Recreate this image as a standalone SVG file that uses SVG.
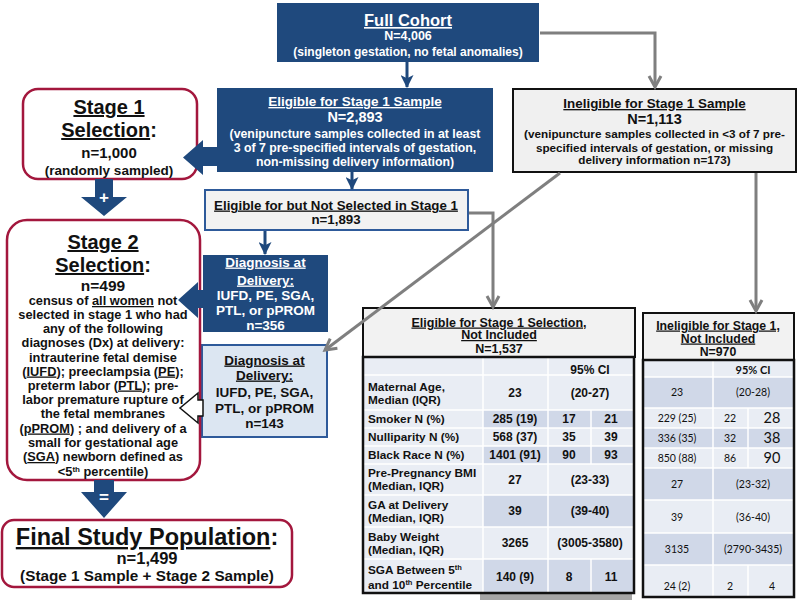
<svg xmlns="http://www.w3.org/2000/svg" width="800" height="600" viewBox="0 0 800 600">
<defs>
<style>
text{font-family:"Liberation Sans",Arial,sans-serif;font-weight:bold;text-anchor:middle;fill:#111}
.w{fill:#fff}
.u{text-decoration:underline}
.dark{fill:#1f497d}
.stage{fill:#fff;stroke:#a3173d;stroke-width:2.5}
.g{stroke:#7f7f7f;stroke-width:3;fill:none}
.b{stroke:#1f497d;stroke-width:3;fill:none}
.c1{fill:#e9edf4}
.c2{fill:#d0d8e8}
.sep{stroke:#fff;stroke-width:1.5}
.lab{text-anchor:start;font-size:11.8px}
.val{font-size:12px}
.cal{font-family:Lato,"Open Sans",sans-serif;font-weight:normal;font-size:10.5px}
.big{font-size:14.5px}
</style>
<marker id="ag" viewBox="0 0 16 16" refX="13" refY="8" markerWidth="16" markerHeight="16" markerUnits="userSpaceOnUse" orient="auto"><path d="M2,2 L13,8 L2,14" fill="none" stroke="#7f7f7f" stroke-width="3"/></marker>
<marker id="ab" viewBox="0 0 12 12" refX="11" refY="6" markerWidth="13" markerHeight="13" markerUnits="userSpaceOnUse" orient="auto"><path d="M0,0 L12,6 L0,12 L3,6z" fill="#1f497d"/></marker>
</defs>

<g id="full-cohort">
<rect class="dark" x="277" y="3" width="262" height="59"/>
<text class="w u" x="408" y="26" font-size="16.5">Full Cohort</text>
<text class="w" x="408" y="39.5" font-size="12.5">N=4,006</text>
<text class="w" x="408" y="56" font-size="12">(singleton gestation, no fetal anomalies)</text>
</g>

<g id="eligible">
<rect class="dark" x="217" y="88" width="276" height="84"/>
<text class="w u" x="355" y="106" font-size="13.5">Eligible for Stage 1 Sample</text>
<text class="w" x="355" y="121.5" font-size="14.5">N=2,893</text>
<text class="w" x="355" y="137.5" font-size="12.3">(venipuncture samples collected in at least</text>
<text class="w" x="355" y="151.5" font-size="12.3">3 of 7 pre-specified intervals of gestation,</text>
<text class="w" x="355" y="165.5" font-size="12.3">non-missing delivery information)</text>
</g>

<g id="ineligible">
<rect x="513" y="89" width="283" height="83" fill="#f0f0f0" stroke="#111" stroke-width="2"/>
<text class="u" x="654.5" y="108" font-size="13.4">Ineligible for Stage 1 Sample</text>
<text x="654.5" y="124" font-size="14.5">N=1,113</text>
<text x="654.5" y="137.5" font-size="11.7">(venipuncture samples collected in &lt;3 of 7 pre-</text>
<text x="654.5" y="151.5" font-size="11.7">specified intervals of gestation, or missing</text>
<text x="654.5" y="164" font-size="11.7">delivery information n=173)</text>
</g>

<g id="stage1">
<rect class="stage" x="23" y="89" width="174" height="90" rx="15"/>
<text class="u" x="109" y="114" font-size="20">Stage 1</text>
<text x="109" y="137" font-size="20"><tspan class="u">Selection</tspan>:</text>
<text x="109" y="157.5" font-size="15">n=1,000</text>
<text x="109" y="174.5" font-size="13.5">(randomly sampled)</text>
</g>

<g id="not-selected">
<rect x="205" y="190" width="263" height="40" fill="#f2f2f2" stroke="#2e5a9a" stroke-width="2"/>
<text class="u" x="336" y="209.5" font-size="13.3">Eligible for but Not Selected in Stage 1</text>
<text x="336" y="223.5" font-size="13.3">n=1,893</text>
</g>

<g id="diagnosis-selected">
<rect class="dark" x="203" y="255" width="125" height="77"/>
<text class="w u" x="265.5" y="266.5" font-size="13.5">Diagnosis at</text>
<text class="w u" x="265.5" y="284.5" font-size="13.5">Delivery:</text>
<text class="w" x="265.5" y="299.5" font-size="13.5">IUFD, PE, SGA,</text>
<text class="w" x="265.5" y="314.5" font-size="13.5">PTL, or pPROM</text>
<text class="w" x="265.5" y="330" font-size="13.5">n=356</text>
</g>

<g id="diagnosis-ineligible">
<rect x="202" y="345" width="125" height="92" fill="#dce6f2" stroke="#2e5a9a" stroke-width="2"/>
<text class="u" x="264.5" y="364.5" font-size="13.5">Diagnosis at</text>
<text class="u" x="264.5" y="379.5" font-size="13.5">Delivery:</text>
<text x="264.5" y="396.5" font-size="13.5">IUFD, PE, SGA,</text>
<text x="264.5" y="412.5" font-size="13.5">PTL, or pPROM</text>
<text x="264.5" y="427.5" font-size="13.5">n=143</text>
</g>

<g id="stage2">
<rect class="stage" x="7" y="220" width="193" height="260" rx="20"/>
<text class="u" x="103" y="249" font-size="20">Stage 2</text>
<text x="103" y="272" font-size="20"><tspan class="u">Selection</tspan>:</text>
<text x="103" y="290.5" font-size="15.5">n=499</text>
<g font-size="12.8">
<text x="103" y="305">census of <tspan class="u">all women</tspan> not</text>
<text x="103" y="319">selected in stage 1 who had</text>
<text x="103" y="333">any of the following</text>
<text x="103" y="347">diagnoses (Dx) at delivery:</text>
<text x="103" y="361.5">intrauterine fetal demise</text>
<text x="103" y="375.5">(<tspan class="u">IUFD</tspan>); preeclampsia (<tspan class="u">PE</tspan>);</text>
<text x="103" y="389.5">preterm labor (<tspan class="u">PTL</tspan>); pre-</text>
<text x="103" y="404">labor premature rupture of</text>
<text x="103" y="418">the fetal membranes</text>
<text x="103" y="432.5">(<tspan class="u">pPROM</tspan>) ; and delivery of a</text>
<text x="103" y="447">small for gestational age</text>
<text x="103" y="461">(<tspan class="u">SGA</tspan>) newborn defined as</text>
<text x="103" y="475.5">&lt;5<tspan font-size="8" dy="-3.5">th</tspan><tspan dy="3.5"> percentile)</tspan></text>
</g>
</g>

<g id="final">
<rect class="stage" x="2" y="520" width="290" height="67" rx="12"/>
<text x="147" y="545" font-size="23.5"><tspan class="u">Final Study Population</tspan>:</text>
<text x="147" y="563.5" font-size="16.5">n=1,499</text>
<text x="147" y="581" font-size="15.3">(Stage 1 Sample + Stage 2 Sample)</text>
</g>

<g id="table-eligible">
<rect x="480" y="593" width="152" height="7" fill="#a6a6a6"/>
<rect x="363" y="308" width="272" height="49" fill="#f2f2f2" stroke="#111" stroke-width="2"/>
<text class="u" x="499" y="326.5" font-size="12.5">Eligible for Stage 1 Selection,</text>
<text class="u" x="499" y="339" font-size="12.5">Not Included</text>
<text x="499" y="353" font-size="12.5">N=1,537</text>
<rect class="c1" x="363" y="357" width="271" height="236"/>
<rect class="c2" x="483" y="410" width="151" height="18"/>
<rect class="c2" x="483" y="446" width="151" height="18"/>
<rect class="c2" x="483" y="495" width="151" height="32"/>
<rect class="c2" x="483" y="559" width="151" height="34"/>
<g class="sep">
<line x1="363" y1="375" x2="634" y2="375"/>
<line x1="363" y1="410" x2="634" y2="410"/>
<line x1="363" y1="428" x2="634" y2="428"/>
<line x1="363" y1="446" x2="634" y2="446"/>
<line x1="363" y1="464" x2="634" y2="464"/>
<line x1="363" y1="495" x2="634" y2="495"/>
<line x1="363" y1="527" x2="634" y2="527"/>
<line x1="363" y1="559" x2="634" y2="559"/>
<line x1="483" y1="357" x2="483" y2="593"/>
<line x1="548" y1="357" x2="548" y2="593"/>
<line x1="591" y1="410" x2="591" y2="464"/>
<line x1="591" y1="559" x2="591" y2="593"/>
</g>
<rect x="363" y="357" width="271" height="236" fill="none" stroke="#111" stroke-width="2.5"/>
<text class="val" x="590" y="374">95% CI</text>
<text class="lab" x="368" y="391">Maternal Age,</text>
<text class="lab" x="368" y="404">Median (IQR)</text>
<text class="val" x="515" y="397">23</text>
<text class="val" x="590" y="397">(20-27)</text>
<text class="lab" x="368" y="423">Smoker N (%)</text>
<text class="val" x="515" y="423">285 (19)</text>
<text class="val" x="569" y="423">17</text>
<text class="val" x="611" y="423">21</text>
<text class="lab" x="368" y="441">Nulliparity N (%)</text>
<text class="val" x="515" y="441">568 (37)</text>
<text class="val" x="569" y="441">35</text>
<text class="val" x="611" y="441">39</text>
<text class="lab" x="368" y="459">Black Race N (%)</text>
<text class="val" x="515" y="459">1401 (91)</text>
<text class="val" x="569" y="459">90</text>
<text class="val" x="611" y="459">93</text>
<text class="lab" x="368" y="477">Pre-Pregnancy BMI</text>
<text class="lab" x="368" y="490">(Median, IQR)</text>
<text class="val" x="515" y="483.5">27</text>
<text class="val" x="590" y="483.5">(23-33)</text>
<text class="lab" x="368" y="508.5">GA at Delivery</text>
<text class="lab" x="368" y="521.5">(Median, IQR)</text>
<text class="val" x="515" y="515">39</text>
<text class="val" x="590" y="515">(39-40)</text>
<text class="lab" x="368" y="541">Baby Weight</text>
<text class="lab" x="368" y="554">(Median, IQR)</text>
<text class="val" x="515" y="547">3265</text>
<text class="val" x="590" y="547">(3005-3580)</text>
<text class="lab" x="368" y="574">SGA Between 5<tspan font-size="7.5" dy="-4">th</tspan></text>
<text class="lab" x="368" y="589">and 10<tspan font-size="7.5" dy="-4">th</tspan><tspan dy="4"> Percentile</tspan></text>
<text class="val" x="515" y="581">140 (9)</text>
<text class="val" x="569" y="581">8</text>
<text class="val" x="611" y="581">11</text>
</g>

<g id="table-ineligible">
<rect x="643" y="313" width="151" height="47" fill="#f2f2f2" stroke="#111" stroke-width="2"/>
<text class="u" x="718" y="329.5" font-size="12.3">Ineligible for Stage 1,</text>
<text class="u" x="718" y="342.5" font-size="12.3">Not Included</text>
<text x="718" y="356" font-size="12.3">N=970</text>
<rect class="c1" x="644" y="360" width="149" height="237"/>
<rect class="c2" x="644" y="377" width="149" height="31"/>
<rect class="c2" x="644" y="428" width="149" height="20"/>
<rect class="c2" x="644" y="468" width="149" height="32"/>
<rect class="c2" x="644" y="533" width="149" height="32"/>
<g class="sep">
<line x1="644" y1="377" x2="793" y2="377"/>
<line x1="644" y1="408" x2="793" y2="408"/>
<line x1="644" y1="428" x2="793" y2="428"/>
<line x1="644" y1="448" x2="793" y2="448"/>
<line x1="644" y1="468" x2="793" y2="468"/>
<line x1="644" y1="500" x2="793" y2="500"/>
<line x1="644" y1="533" x2="793" y2="533"/>
<line x1="644" y1="565" x2="793" y2="565"/>
<line x1="713" y1="360" x2="713" y2="597"/>
<line x1="748" y1="408" x2="748" y2="468"/>
<line x1="748" y1="565" x2="748" y2="597"/>
</g>
<rect x="643" y="360" width="151" height="237" fill="none" stroke="#111" stroke-width="2.5"/>
<text class="cal" x="753" y="374" style="font-weight:bold;font-size:11px">95% CI</text>
<text class="cal" x="677" y="396">23</text>
<text class="cal" x="753" y="396">(20-28)</text>
<text class="cal" x="677" y="422">229 (25)</text>
<text class="cal" x="730" y="422">22</text>
<text class="cal big" x="772" y="423">28</text>
<text class="cal" x="677" y="442">336 (35)</text>
<text class="cal" x="730" y="442">32</text>
<text class="cal big" x="772" y="443">38</text>
<text class="cal" x="677" y="462">850 (88)</text>
<text class="cal" x="730" y="462">86</text>
<text class="cal big" x="772" y="463">90</text>
<text class="cal" x="677" y="488">27</text>
<text class="cal" x="753" y="488">(23-32)</text>
<text class="cal" x="677" y="521">39</text>
<text class="cal" x="753" y="521">(36-40)</text>
<text class="cal" x="677" y="553">3135</text>
<text class="cal" x="753" y="553">(2790-3435)</text>
<text class="cal" x="677" y="590">24 (2)</text>
<text class="cal" x="730" y="590">2</text>
<text class="cal" x="772" y="590">4</text>
</g>

<g id="connectors">
<line class="b" x1="407" y1="62" x2="407" y2="87" marker-end="url(#ab)"/>
<path class="g" d="M540,33 H655 V87" marker-end="url(#ag)"/>
<line class="b" x1="352" y1="172" x2="352" y2="189" marker-end="url(#ab)"/>
<line class="b" x1="265" y1="231" x2="265" y2="254" marker-end="url(#ab)"/>
<path class="g" d="M469,213 H493 V307" marker-end="url(#ag)"/>
<path class="g" d="M560,173 L325,350" marker-end="url(#ag)"/>
<path class="g" d="M756,173 V311" marker-end="url(#ag)"/>
<polygon class="dark" points="218,147 203,147 203,140 183,157.5 203,175 203,166 218,166"/>
<polygon class="dark" points="95,179 113,179 113,197 127,197 104,216 81,197 95,197"/>
<text class="w" x="104" y="203" font-size="17">+</text>
<polygon class="dark" points="94,480 114,480 114,492 127,492 104,518 81,492 94,492"/>
<text class="w" x="104" y="503" font-size="17">=</text>
<polygon class="dark" points="204,290 198,290 198,282 178,300 198,318 198,308 204,308"/>
<polygon points="203,400 198,400 198,393 180,408 198,423 198,416 203,416" fill="#fff" stroke="#111" stroke-width="1.5"/>
</g>
</svg>
